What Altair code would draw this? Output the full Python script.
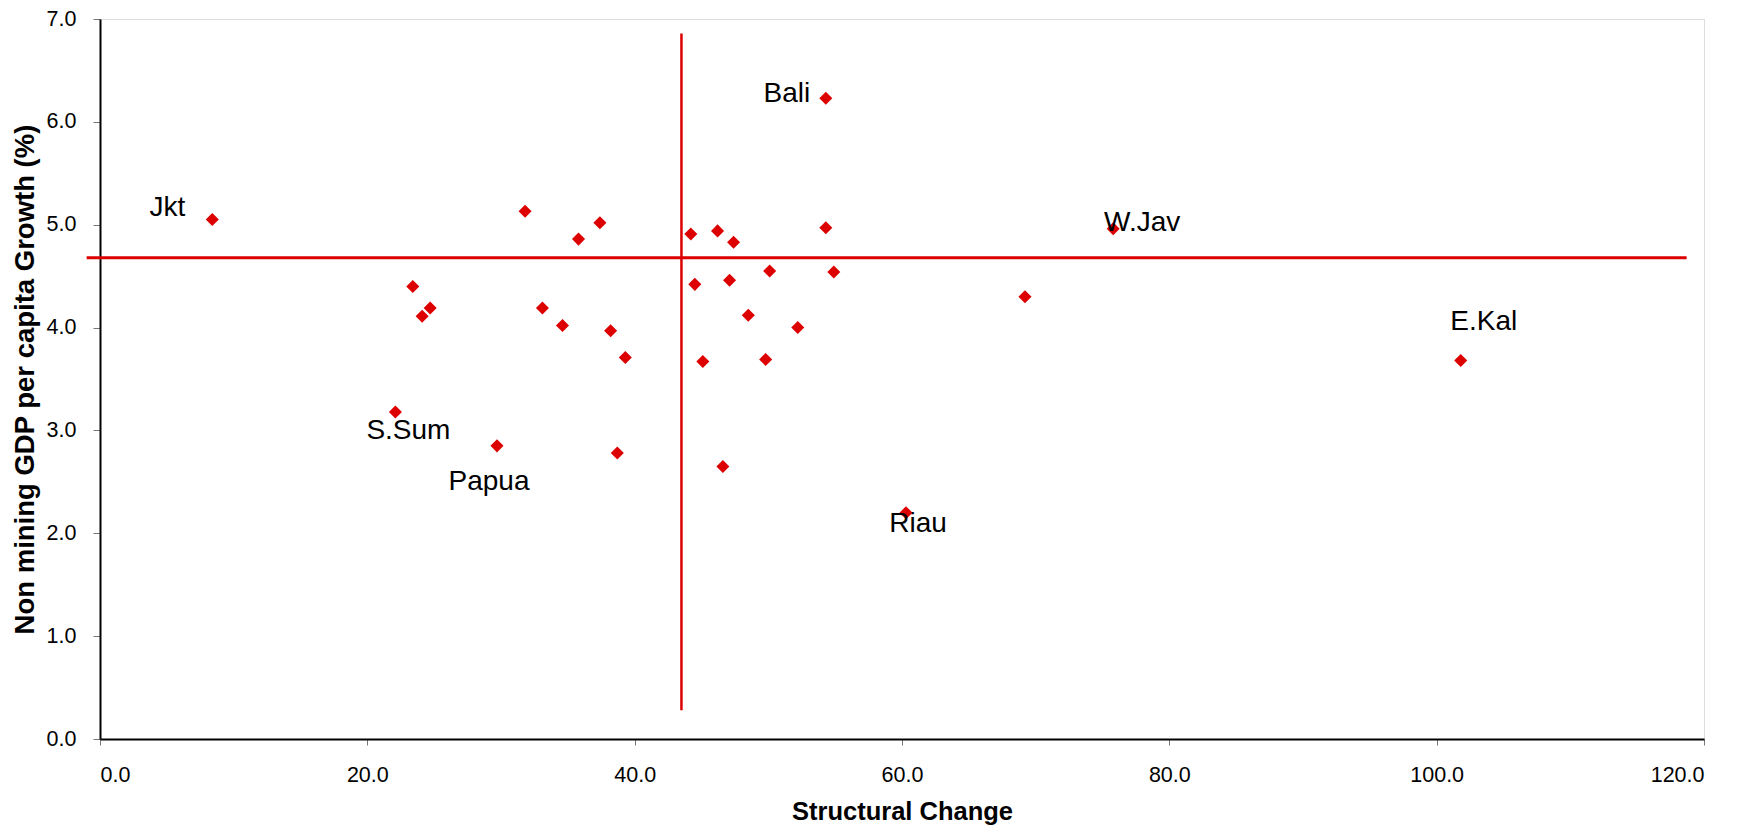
import altair as alt
import pandas as pd

# Structural change (x) and non-mining GDP per capita growth (y) per province
structural_change = [8.4, 23.4, 24.1, 24.7, 22.1, 31.8, 33.1, 34.6, 35.8, 37.4, 38.2,
                     39.3, 29.7, 38.7, 44.2, 44.5, 46.2, 47.4, 47.1, 45.1, 48.5, 50.1,
                     49.8, 52.2, 54.3, 54.3, 54.9, 46.6, 60.3, 69.2, 75.8, 101.8]
growth = [5.05, 4.40, 4.11, 4.19, 3.18, 5.13, 4.19, 4.02, 4.86, 5.02, 3.97,
          3.71, 2.85, 2.78, 4.91, 4.42, 4.94, 4.83, 4.46, 3.67, 4.12, 4.55,
          3.69, 4.00, 6.23, 4.97, 4.54, 2.65, 2.20, 4.30, 4.96, 3.68]
names = ["Jkt", "", "", "", "S.Sum", "", "", "", "", "", "",
         "", "Papua", "", "", "", "", "", "", "", "", "",
         "", "", "Bali", "", "", "", "Riau", "", "W.Jav", "E.Kal"]

# Reference (average) lines
h_line_y = [4.68]
h_line_x = [-1.0]
h_line_x2 = [118.7]
v_line_x = [43.5]
v_line_y = [0.28]
v_line_y2 = [6.86]

x_ticks = [0, 20, 40, 60, 80, 100, 120]
y_ticks = [0, 1, 2, 3, 4, 5, 6, 7]

df = pd.DataFrame({"x": structural_change, "y": growth, "name": names})
hdf = pd.DataFrame({"x": h_line_x, "x2": h_line_x2, "y": h_line_y})
vdf = pd.DataFrame({"x": v_line_x, "y": v_line_y, "y2": v_line_y2})

FONT = "Liberation Sans"
RED = "#dd0000"

xscale = alt.Scale(domain=[0, 120], nice=False, zero=False)
yscale = alt.Scale(domain=[0, 7], nice=False, zero=False)

xenc = alt.X("x:Q", scale=xscale, title="Structural Change",
             axis=alt.Axis(values=x_ticks, format=".1f", grid=False,
                           domainColor="black", domainWidth=2,
                           tickColor="#777777", tickSize=6, labelPadding=19,
                           labelFontSize=21.5, labelFont=FONT, labelColor="black",
                           titleFont=FONT, titleFontSize=25.5, titleFontWeight="bold",
                           titleColor="black", titlePadding=14))
yenc = alt.Y("y:Q", scale=yscale, title="Non mining GDP per capita Growth (%)",
             axis=alt.Axis(values=y_ticks, format=".1f", grid=False,
                           domainColor="black", domainWidth=2,
                           tickColor="#777777", tickSize=7, labelPadding=17,
                           labelFontSize=21.5, labelFont=FONT, labelColor="black",
                           titleFont=FONT, titleFontSize=27.5, titleFontWeight="bold",
                           titleColor="black", titlePadding=7))

points = alt.Chart(df).mark_point(shape="diamond", filled=True, size=170,
                                  color=RED, opacity=1).encode(x=xenc, y=yenc)

hline = alt.Chart(hdf).mark_rule(color=RED, strokeWidth=3, clip=False).encode(
    x="x:Q", x2="x2:Q", y="y:Q")
vline = alt.Chart(vdf).mark_rule(color=RED, strokeWidth=2.5, clip=False).encode(
    x="x:Q", y="y:Q", y2="y2:Q")

offsets = {
    "Jkt": (-45, -12), "Bali": (-39, -4), "W.Jav": (29, -6), "E.Kal": (23, -38),
    "S.Sum": (13, 19), "Papua": (-8, 36), "Riau": (12, 11),
}
label_layers = []
for nm, (dx, dy) in offsets.items():
    label_layers.append(
        alt.Chart(df).transform_filter(alt.datum.name == nm).mark_text(
            font=FONT, fontSize=28, color="black", dx=dx, dy=dy,
            align="center", baseline="middle").encode(
            x="x:Q", y="y:Q", text="name:N"))

chart = alt.layer(hline, vline, points, *label_layers).properties(
    width=1604, height=720,
    padding={"left": 92, "top": 11, "right": 30, "bottom": 94},
    autosize=alt.AutoSizeParams(type="none"),
).configure_view(stroke="#888888", strokeWidth=2.5).configure(background="white")

chart.save("out.html", embed_options={"renderer": "svg", "actions": False})
